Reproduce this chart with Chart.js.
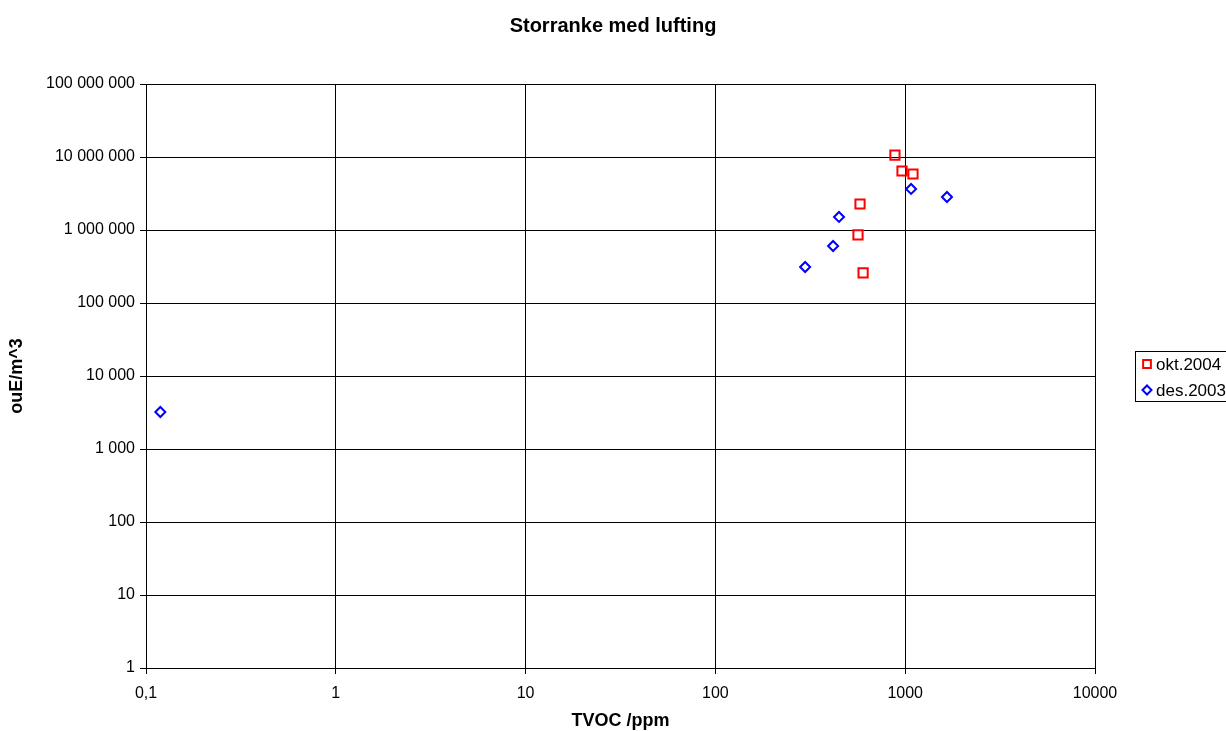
<!DOCTYPE html>
<html>
<head>
<meta charset="utf-8">
<script src="https://cdn.jsdelivr.net/npm/chart.js@4.4.1/dist/chart.umd.min.js"></script>
<style>
  html, body { margin: 0; padding: 0; background: #fff; }
  #wrap { width: 1226px; height: 731px; }
</style>
</head>
<body>
<div id="wrap"><canvas id="myChart" width="1226" height="731"></canvas></div>
<script>
const xTicks = [0.1, 1, 10, 100, 1000, 10000];
const yTicks = [1, 10, 100, 1000, 10000, 100000, 1000000, 10000000, 100000000];

const okt2004X = [883, 962, 1099, 578, 564, 600];
const okt2004Y = [10600000, 6430000, 5850000, 2270000, 855000, 258000];

const des2003X = [1074, 1660, 448, 417, 297, 0.119];
const des2003Y = [3650000, 2830000, 1510000, 604000, 311000, 3210];

const toPoints = (xs, ys) => xs.map((x, i) => ({ x: x, y: ys[i] }));

const font = 'Arial, "Liberation Sans", sans-serif';

// legend box drawn at the right edge like the original
const legendBox = {
  id: 'legendBox',
  afterDraw(chart) {
    const ctx = chart.ctx;
    const left = 1135, top = 351, w = 100, h = 50;
    ctx.save();
    ctx.strokeStyle = '#000';
    ctx.lineWidth = 1;
    ctx.strokeRect(left + 0.5, top + 0.5, w, h);
    ctx.font = '17px ' + font;
    ctx.textBaseline = 'middle';
    chart.data.datasets.forEach((ds, i) => {
      const cy = top + 13 + i * 26;
      ctx.strokeStyle = ds.borderColor;
      ctx.fillStyle = 'rgba(0,0,0,0)';
      ctx.lineWidth = 2;
      Chart.helpers.drawPoint(ctx, { pointStyle: ds.pointStyle, radius: ds.pointStyle === 'rect' ? 5.5 : 4.5, borderWidth: 2 }, left + 12, cy);
      ctx.fillStyle = '#000';
      ctx.fillText(ds.label, left + 21, cy + 1);
    });
    ctx.restore();
  }
};

new Chart(document.getElementById('myChart'), {
  type: 'scatter',
  data: {
    datasets: [
      {
        label: 'okt.2004',
        data: toPoints(okt2004X, okt2004Y),
        pointStyle: 'rect',
        pointRadius: 6.5,
        pointBorderWidth: 2,
        borderColor: '#ff0000',
        backgroundColor: 'rgba(0,0,0,0)'
      },
      {
        label: 'des.2003',
        data: toPoints(des2003X, des2003Y),
        pointStyle: 'rectRot',
        pointRadius: 5,
        pointBorderWidth: 2,
        borderColor: '#0000ff',
        backgroundColor: 'rgba(0,0,0,0)'
      }
    ]
  },
  options: {
    responsive: false,
    animation: false,
    layout: { padding: 0 },
    plugins: {
      legend: { display: false },
      tooltip: { enabled: false },
      title: {
        display: true,
        text: 'Storranke med lufting',
        color: '#000',
        font: { family: font, size: 20, weight: 'bold' },
        padding: { top: 14, bottom: 46 }
      }
    },
    scales: {
      x: {
        type: 'logarithmic',
        min: 0.1,
        max: 10000,
        afterBuildTicks: (s) => { s.ticks = xTicks.map(v => ({ value: v })); },
        afterFit: (s) => { s.height = 63; },
        ticks: {
          color: '#000',
          font: { family: font, size: 16 },
          padding: 10,
          maxRotation: 0,
          callback: (v) => String(v).replace('.', ',')
        },
        grid: { color: '#000', lineWidth: 1, tickLength: 6 },
        border: { color: '#000' },
        title: {
          display: true,
          text: 'TVOC /ppm',
          color: '#000',
          font: { family: font, size: 18, weight: 'bold', lineHeight: 1 },
          padding: { top: 0, bottom: 1 }
        }
      },
      y: {
        type: 'logarithmic',
        min: 1,
        max: 100000000,
        afterBuildTicks: (s) => { s.ticks = yTicks.map(v => ({ value: v })); },
        afterFit: (s) => { s.width = 146; },
        ticks: {
          color: '#000',
          font: { family: font, size: 16 },
          padding: 5,
          callback: (v) => String(v).replace(/\B(?=(\d{3})+(?!\d))/g, ' ')
        },
        grid: { color: '#000', lineWidth: 1, tickLength: 6 },
        border: { color: '#000' },
        title: {
          display: true,
          text: 'ouE/m^3',
          color: '#000',
          font: { family: font, size: 18, weight: 'bold' },
          padding: { top: 6, bottom: 0 }
        }
      },
      // empty right-hand axis that keeps room for the legend
      yRight: {
        type: 'linear',
        position: 'right',
        display: true,
        afterFit: (s) => { s.width = 131; },
        ticks: { display: false },
        grid: { display: false, drawTicks: false },
        border: { display: false }
      }
    }
  },
  plugins: [legendBox]
});
</script>
</body>
</html>
